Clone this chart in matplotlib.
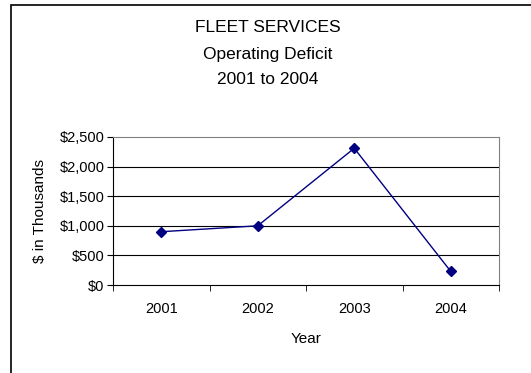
import matplotlib.pyplot as plt
from matplotlib.patches import Rectangle
from matplotlib.ticker import FuncFormatter, FixedLocator

# ---------- Data ----------
years = ["2001", "2002", "2003", "2004"]
deficit = [900, 1000, 2310, 230]
yticks = [0, 500, 1000, 1500, 2000, 2500]

plt.rcParams["font.family"] = ["Liberation Sans", "DejaVu Sans"]

W, H = 531, 373
fig = plt.figure(figsize=(W / 100, H / 100), dpi=100)

# outer chart border (clipped by right/bottom of image)
fig.patches.append(Rectangle((11 / W, -0.1), 1.2, 1 - 5 / H + 0.1,
                             transform=fig.transFigure, fill=False,
                             edgecolor="black", linewidth=1.2))

ax = fig.add_axes([113 / W, 1 - 285 / H, (499 - 113) / W, (285 - 137) / H])

x = range(len(years))
ax.plot(x, deficit, color="#000080", linewidth=1, marker="D", markersize=5.5,
        markerfacecolor="#000080", markeredgecolor="#000080")

ax.set_xlim(-0.5, len(years) - 0.5)
ax.set_ylim(0, 2500)
ax.set_yticks(yticks)
ax.yaxis.set_major_formatter(FuncFormatter(lambda v, p: f"${v:,.0f}"))
ax.set_xticks(list(x))
ax.set_xticklabels(years)
ax.xaxis.set_minor_locator(FixedLocator([i - 0.5 for i in range(len(years) + 1)]))
ax.tick_params(axis="x", which="major", length=0, pad=12, labelsize=10.5)
ax.tick_params(axis="x", which="minor", length=4, direction="out", color="black")
ax.tick_params(axis="y", length=4, direction="out", labelsize=10.5, pad=2)

for v in yticks[1:-1]:
    ax.axhline(v, color="black", linewidth=0.8, zorder=0)

for s in ["top", "right"]:
    ax.spines[s].set_color("#808080")
for s in ["left", "bottom"]:
    ax.spines[s].set_color("black")

ax.set_xlabel("Year", fontsize=11, labelpad=12)
ax.set_ylabel("$ in Thousands", fontsize=11, labelpad=9)

for i, t in enumerate(["FLEET SERVICES", "Operating Deficit", "2001 to 2004"]):
    fig.text(268 / W, 1 - (28 + 26 * i) / H, t, ha="center", va="center",
             fontsize=12.5)

fig.savefig("out.png", dpi=100)
